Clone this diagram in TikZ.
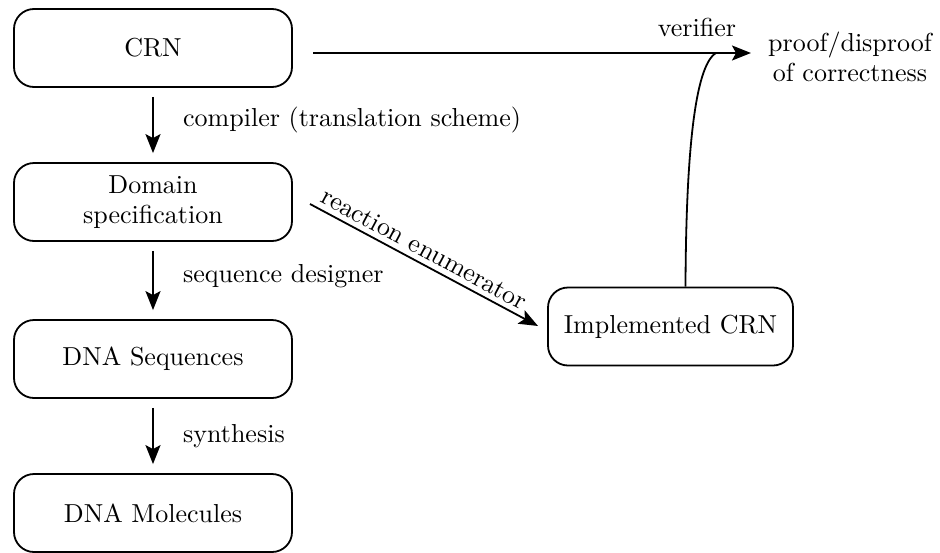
\documentclass[tikz,border=0pt]{standalone}
\usepackage{fontspec}
\setmainfont{lmroman10-regular.otf}
\usetikzlibrary{arrows.meta,calc}
\begin{document}
\begin{tikzpicture}[x=1pt,y=-1pt,
  box/.style={draw,line width=1.8pt,rounded corners=20pt,minimum width=278pt,minimum height=78pt,align=center,inner sep=0pt,font=\fontsize{26}{30}\selectfont},
  lbl/.style={inner sep=0pt,font=\fontsize{26}{30}\selectfont,align=center},
  arr/.style={line width=1.8pt,-{Stealth[length=19pt,width=15pt,inset=4pt]}}]
\useasboundingbox (0,0) rectangle (940,552);
\node[box] (crn) at (153,48) {CRN};
\node[box] (dom) at (153,202) {Domain\\specification};
\node[box] (seq) at (153,359) {DNA Sequences};
\node[box] (mol) at (153,513) {DNA Molecules};
\node[box,minimum width=245pt] (impl) at (670.5,326.5) {Implemented CRN};
\node[lbl,anchor=west] (l1) at (183,120) {compiler (translation scheme)};
\node[lbl,anchor=west] (l2) at (183,276) {sequence designer};
\node[lbl,anchor=west] (l3) at (183,436) {synthesis};
\node[lbl] (ver) at (697,27) {verifier};
\node[lbl] (proof) at (850,57) {proof/disproof\\of correctness};
\coordinate (hs) at (313,53);
\coordinate (he) at (751,53);
\coordinate (cs) at ($(impl.north)+(15,0)$);
\coordinate (ce) at (716,53);
\draw[arr,shorten <=9pt,shorten >=9pt] (crn) -- (dom);
\draw[arr,shorten <=9pt,shorten >=9pt] (dom) -- (seq);
\draw[arr,shorten <=9pt,shorten >=9pt] (seq) -- (mol);
\draw[arr] (hs) -- (he);
\draw[line width=1.8pt] (cs) .. controls (686,160) and (694,66) .. (ce);
\coordinate (rs) at (310,204);
\coordinate (re) at (538,326);
\draw[arr] (rs) -- node[lbl,sloped,above=5pt,pos=0.47] {reaction enumerator} (re);
\end{tikzpicture}
\end{document}
